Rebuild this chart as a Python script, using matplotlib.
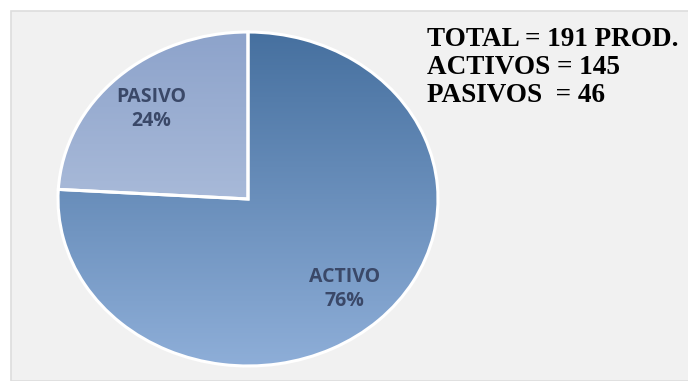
import numpy as np
import matplotlib.pyplot as plt
from matplotlib.patches import Rectangle
from matplotlib.colors import LinearSegmentedColormap

# product status counts
labels = ['PASIVO', 'ACTIVO']
counts = [46, 145]
summary = ['TOTAL = 191 PROD.', 'ACTIVOS = 145', 'PASIVOS  = 46']

# top -> bottom gradient colours for each slice
grad_colors = [('#8da3cb', '#c3d0e6'), ('#46709f', '#8eaed8')]

fig = plt.figure(figsize=(6.88, 3.81), dpi=100)
fig.patch.set_facecolor('white')

# light grey chart panel
panel = Rectangle((11 / 688, 0), 1, 370 / 381, transform=fig.transFigure,
                  facecolor='#f1f1f1', edgecolor='#dddddd', linewidth=1.2, zorder=-5)
fig.patches.append(panel)

# pie axes: ellipse centre (248,199) px, radii 190 x 167 px
lim = 1.05
rx, ry = 190 * lim, 167 * lim
cx, cy = 248, 381 - 199
ax = fig.add_axes([(cx - rx) / 688, (cy - ry) / 381, 2 * rx / 688, 2 * ry / 381])
ax.set_zorder(2)
ax.patch.set_visible(False)

wedges, _ = ax.pie(counts, startangle=90, counterclock=True,
                   wedgeprops=dict(edgecolor='white', linewidth=2.2))
ax.set_aspect('auto')
ax.axis('off')

grad = np.linspace(0, 1, 256).reshape(-1, 1)
total = sum(counts)
for w, (c0, c1), lab, n in zip(wedges, grad_colors, labels, counts):
    cmap = LinearSegmentedColormap.from_list(lab, [c0, c1])
    w.set_facecolor('none')
    im = ax.imshow(grad, cmap=cmap, extent=[-1, 1, -1, 1], origin='upper',
                   aspect='auto', zorder=1)
    im.set_clip_path(w)
    w.set_zorder(2)
    ang = np.deg2rad((w.theta1 + w.theta2) / 2)
    ax.text(0.74 * np.cos(ang), 0.74 * np.sin(ang), f'{lab}\n{round(100 * n / total)}%',
            ha='center', va='center', fontsize=14, fontweight='bold',
            family='Open Sans', color='#3a4868', linespacing=1.22, zorder=3)

ax.set_xlim(-lim, lim)
ax.set_ylim(-lim, lim)

fig.text(427 / 688, 1 - 27 / 381, '\n'.join(summary), ha='left', va='top',
         family='Liberation Serif', fontweight='bold', fontsize=19.5,
         linespacing=1.17, color='black', zorder=5)

fig.savefig('out.png', dpi=100)
